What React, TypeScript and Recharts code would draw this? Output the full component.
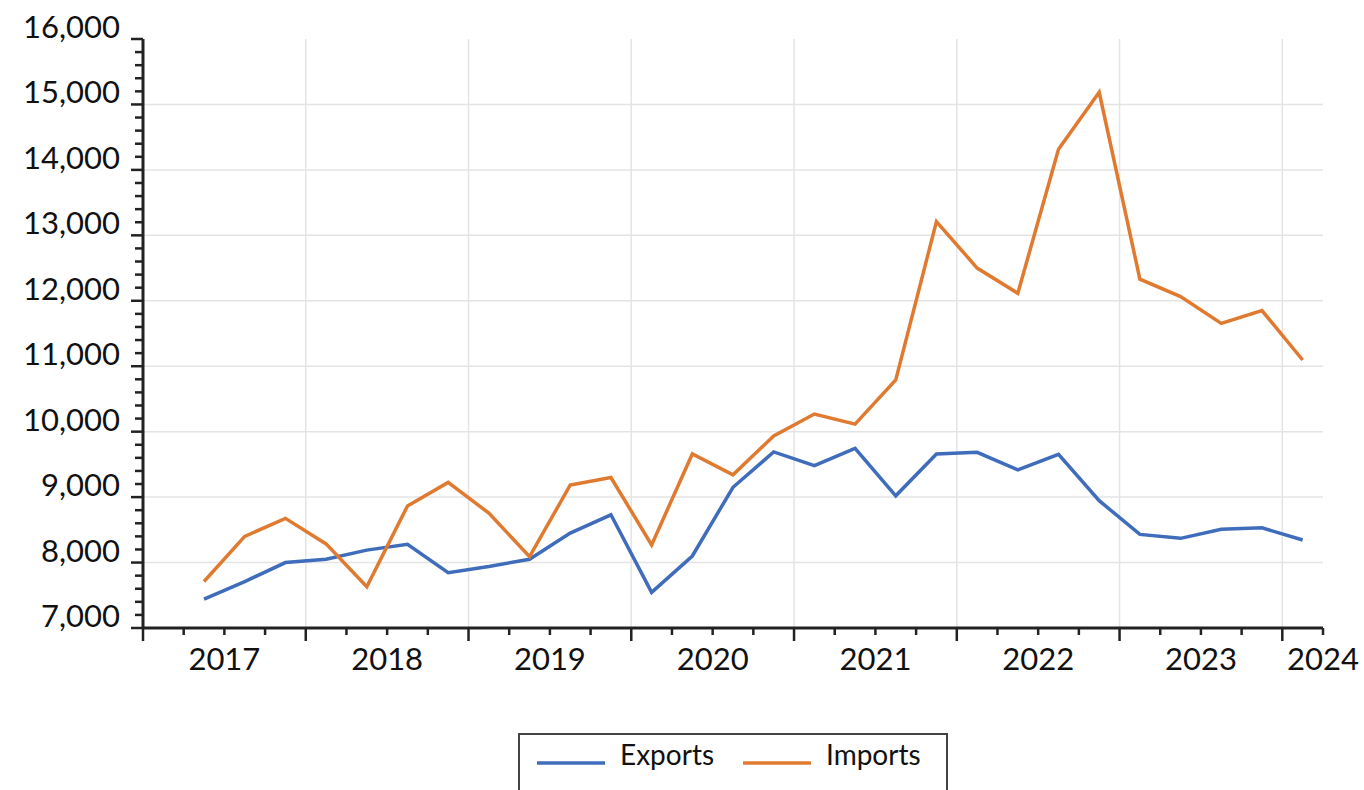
import { LineChart, Line, XAxis, YAxis, CartesianGrid } from "recharts";

// quarterly values, 2017 Q2 .. 2024 Q1
const quarters = [
  "2017Q2", "2017Q3", "2017Q4",
  "2018Q1", "2018Q2", "2018Q3", "2018Q4",
  "2019Q1", "2019Q2", "2019Q3", "2019Q4",
  "2020Q1", "2020Q2", "2020Q3", "2020Q4",
  "2021Q1", "2021Q2", "2021Q3", "2021Q4",
  "2022Q1", "2022Q2", "2022Q3", "2022Q4",
  "2023Q1", "2023Q2", "2023Q3", "2023Q4",
  "2024Q1",
];

const exportsValues = [
  7440, 7710, 8000, 8050, 8190, 8280, 7845, 7940, 8050, 8450, 8730, 7545, 8100, 9150,
  9690, 9480, 9745, 9020, 9660, 9685, 9415, 9655, 8945, 8430, 8370, 8510, 8530, 8345,
];

const importsValues = [
  7710, 8400, 8675, 8285, 7630, 8865, 9225, 8755, 8090, 9185, 9300, 8270, 9660, 9340,
  9935, 10270, 10115, 10790, 13210, 12500, 12115, 14315, 15185, 12330, 12065, 11655, 11850, 11095,
];

const yearLabels = ["2017", "2018", "2019", "2020", "2021", "2022", "2023", "2024"];
const yMajorTicks = [7000, 8000, 9000, 10000, 11000, 12000, 13000, 14000, 15000, 16000];
const yGridValues = [8000, 9000, 10000, 11000, 12000, 13000, 14000, 15000];

const series = [
  { key: "exports", name: "Exports", color: "#3F6DBB" },
  { key: "imports", name: "Imports", color: "#E07A30" },
];

const FIRST_YEAR = 2017;
const Q_END = 29; // end of 2024 Q1, in quarters from start of 2017

// centre of a quarter, in quarters from the start of 2017
const quarterPos = (label: string) => {
  const year = Number(label.slice(0, 4));
  const qn = Number(label.slice(5));
  return (year - FIRST_YEAR) * 4 + (qn - 1) + 0.5;
};

const data = quarters.map((label, i) => ({
  label,
  q: quarterPos(label),
  exports: exportsValues[i],
  imports: importsValues[i],
}));

const xTicks = Array.from({ length: Q_END + 1 }, (_, i) => i);
const xGridValues = xTicks.filter((q) => q > 0 && q % 4 === 0);
const yTicks: number[] = [];
for (let v = yMajorTicks[0]; v <= yMajorTicks[yMajorTicks.length - 1]; v += 200) yTicks.push(v);

const yearAt = (q: number) => {
  if (q === Q_END) return yearLabels[yearLabels.length - 1];
  if (q % 4 === 2) return yearLabels[(q - 2) / 4];
  return null;
};

const font = "Lato, 'Open Sans', sans-serif";
const axisColor = "#222";

function XTick(props: any) {
  const { x, y, payload } = props;
  const q = payload.value as number;
  const major = q % 4 === 0;
  const label = yearAt(q);
  return (
    <g>
      <line x1={x} x2={x} y1={y} y2={y + (major ? 13 : 7)} stroke={axisColor} strokeWidth={2.5} />
      {label && (
        <text x={x} y={y + 42} textAnchor="middle" fontFamily={font} fontSize={31} fill="#111">
          {label}
        </text>
      )}
    </g>
  );
}

function YTick(props: any) {
  const { x, y, payload } = props;
  const v = payload.value as number;
  const major = v % 1000 === 0;
  return (
    <g>
      <line x1={x - (major ? 12 : 8)} x2={x} y1={y} y2={y} stroke={axisColor} strokeWidth={2.5} />
      {major && (
        <text x={x - 23} y={y - 1} textAnchor="end" fontFamily={font} fontSize={31} fill="#111">
          {v.toLocaleString("en-US")}
        </text>
      )}
    </g>
  );
}

function LegendBox() {
  const itemX = [537, 743];
  return (
    <svg width={1364} height={790} style={{ position: "absolute", left: 0, top: 0, pointerEvents: "none" }}>
      <rect x={519} y={734} width={428} height={80} fill="#fff" stroke="#444" strokeWidth={2} />
      {series.map((s, i) => (
        <g key={s.key}>
          <line x1={itemX[i]} x2={itemX[i] + 68} y1={763} y2={763} stroke={s.color} strokeWidth={3.5} />
          <text x={itemX[i] + 83} y={765} fontFamily={font} fontSize={28} fill="#111">
            {s.name}
          </text>
        </g>
      ))}
    </svg>
  );
}

export default function App() {
  return (
    <div style={{ position: "relative", width: 1364, height: 790, overflow: "hidden", background: "#fff" }}>
      <style>{"body{margin:0}"}</style>
      <LineChart width={1364} height={790} data={data} margin={{ top: 39, right: 41, left: 0, bottom: 102 }}>
        <CartesianGrid
          stroke="#e4e4e4"
          strokeWidth={1.5}
          horizontalValues={yGridValues}
          verticalValues={xGridValues}
        />
        <XAxis
          type="number"
          dataKey="q"
          domain={[0, Q_END]}
          ticks={xTicks}
          interval={0}
          height={60}
          tickSize={0}
          tickMargin={0}
          tickLine={false}
          axisLine={{ stroke: axisColor, strokeWidth: 3 }}
          tick={<XTick />}
        />
        <YAxis
          type="number"
          domain={[yMajorTicks[0], yMajorTicks[yMajorTicks.length - 1]]}
          ticks={yTicks}
          interval={0}
          width={143}
          tickSize={0}
          tickMargin={0}
          tickLine={false}
          axisLine={{ stroke: axisColor, strokeWidth: 3 }}
          tick={<YTick />}
        />
        {series.map((s) => (
          <Line
            key={s.key}
            type="linear"
            dataKey={s.key}
            name={s.name}
            stroke={s.color}
            strokeWidth={3.5}
            dot={false}
            isAnimationActive={false}
          />
        ))}
      </LineChart>
      <LegendBox />
    </div>
  );
}
